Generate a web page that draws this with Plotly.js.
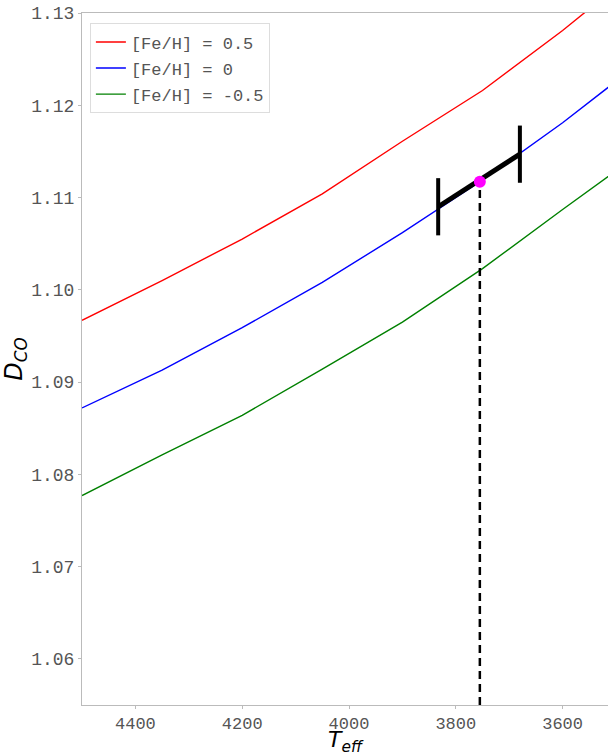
<!DOCTYPE html>
<html>
<head>
<meta charset="utf-8">
<script src="https://cdn.plot.ly/plotly-3.0.1.min.js"></script>
<style>
  html, body { margin: 0; padding: 0; background: #fff; }
  #chart { width: 608px; height: 756px; }
</style>
</head>
<body>
<div id="chart"></div>
<script>
// temperature grid shared by the three model curves
const TEFF = [4500, 4350, 4200, 4050, 3900, 3750, 3600, 3500];
const D_FEH_P05 = [1.0967, 1.1010, 1.1055, 1.1104, 1.1161, 1.1216, 1.1281, 1.1328];
const D_FEH_0 = [1.0872, 1.0913, 1.0959, 1.1008, 1.1062, 1.1119, 1.1181, 1.1226];
const D_FEH_M05 = [1.0777, 1.0821, 1.0864, 1.0914, 1.0965, 1.1023, 1.1087, 1.1129];

const SERIES_NAMES = ["[Fe/H] = 0.5", "[Fe/H] = 0", "[Fe/H] = -0.5"];

// measured star: best estimate and its temperature range
const STAR_TEFF = 3755;
const STAR_D = 1.1117;
const RANGE_TEFF = [3833, 3680];
const RANGE_D = [1.1090, 1.1147];
const CAP_HALF = 0.0031;
const Y_MIN = 1.055;

const MONO = "'Liberation Mono', 'DejaVu Sans Mono', monospace";

const curves = [D_FEH_P05, D_FEH_0, D_FEH_M05].map((ys, i) => ({
  type: "scatter",
  mode: "lines",
  name: SERIES_NAMES[i],
  legendgroup: "g" + i,
  x: TEFF,
  y: ys,
  line: { color: ["#ff0000", "#0000ff", "#008000"][i], width: 1.4 },
}));

const rangeLine = {
  type: "scatter", mode: "lines", showlegend: false,
  x: RANGE_TEFF, y: RANGE_D,
  line: { color: "#000", width: 5 },
};

const caps = RANGE_TEFF.map((t, i) => ({
  type: "scatter", mode: "lines", showlegend: false,
  x: [t, t], y: [RANGE_D[i] - CAP_HALF, RANGE_D[i] + CAP_HALF],
  line: { color: "#000", width: 4 },
}));

const dropLine = {
  type: "scatter", mode: "lines", showlegend: false,
  x: [STAR_TEFF, STAR_TEFF], y: [Y_MIN, STAR_D],
  line: { color: "#000", width: 2.5, dash: "8px,5px" },
};

const star = {
  type: "scatter", mode: "markers", showlegend: false,
  x: [STAR_TEFF], y: [STAR_D],
  marker: { color: "#ff00ff", size: 12 },
};

const layout = {
  width: 608,
  height: 756,
  margin: { l: 82, r: 0, t: 13, b: 51 },
  paper_bgcolor: "#fff",
  plot_bgcolor: "#fff",
  font: { family: MONO, color: "#555" },
  showlegend: true,
  legend: {
    x: 0.015, y: 0.985, xanchor: "left", yanchor: "top",
    bgcolor: "#fff", bordercolor: "#dddddd", borderwidth: 1,
    font: { family: MONO, size: 17, color: "#555" },
    tracegroupgap: 1,
  },
  xaxis: {
    range: [4500, 3515],
    tickvals: [4400, 4200, 4000, 3800, 3600],
    ticktext: ["4400", "4200", "4000", "3800", "3600"],
    ticks: "outside", ticklen: 3, tickcolor: "#bbb",
    tickfont: { family: MONO, size: 17, color: "#555" },
    showgrid: false, zeroline: false,
    showline: true, linecolor: "#bbb", linewidth: 1, mirror: true,
    title: {
      text: "<i>T</i><sub><i>eff</i></sub>",
      font: { family: "'DejaVu Sans', sans-serif", size: 22, color: "#000" },
      standoff: 12,
    },
  },
  yaxis: {
    range: [Y_MIN, 1.13],
    dtick: 0.01,
    tickformat: ".2f",
    ticks: "outside", ticklen: 3, tickcolor: "#bbb",
    tickfont: { family: MONO, size: 18, color: "#555" },
    showgrid: false, zeroline: false,
    showline: true, linecolor: "#bbb", linewidth: 1,
    title: {
      text: "<i>D</i><sub><i>CO</i></sub>",
      font: { family: "'DejaVu Sans', sans-serif", size: 24, color: "#000" },
      standoff: 8,
    },
  },
};

Plotly.newPlot("chart", [...curves, dropLine, rangeLine, ...caps, star], layout, {
  displayModeBar: false,
  staticPlot: true,
});
</script>
</body>
</html>
